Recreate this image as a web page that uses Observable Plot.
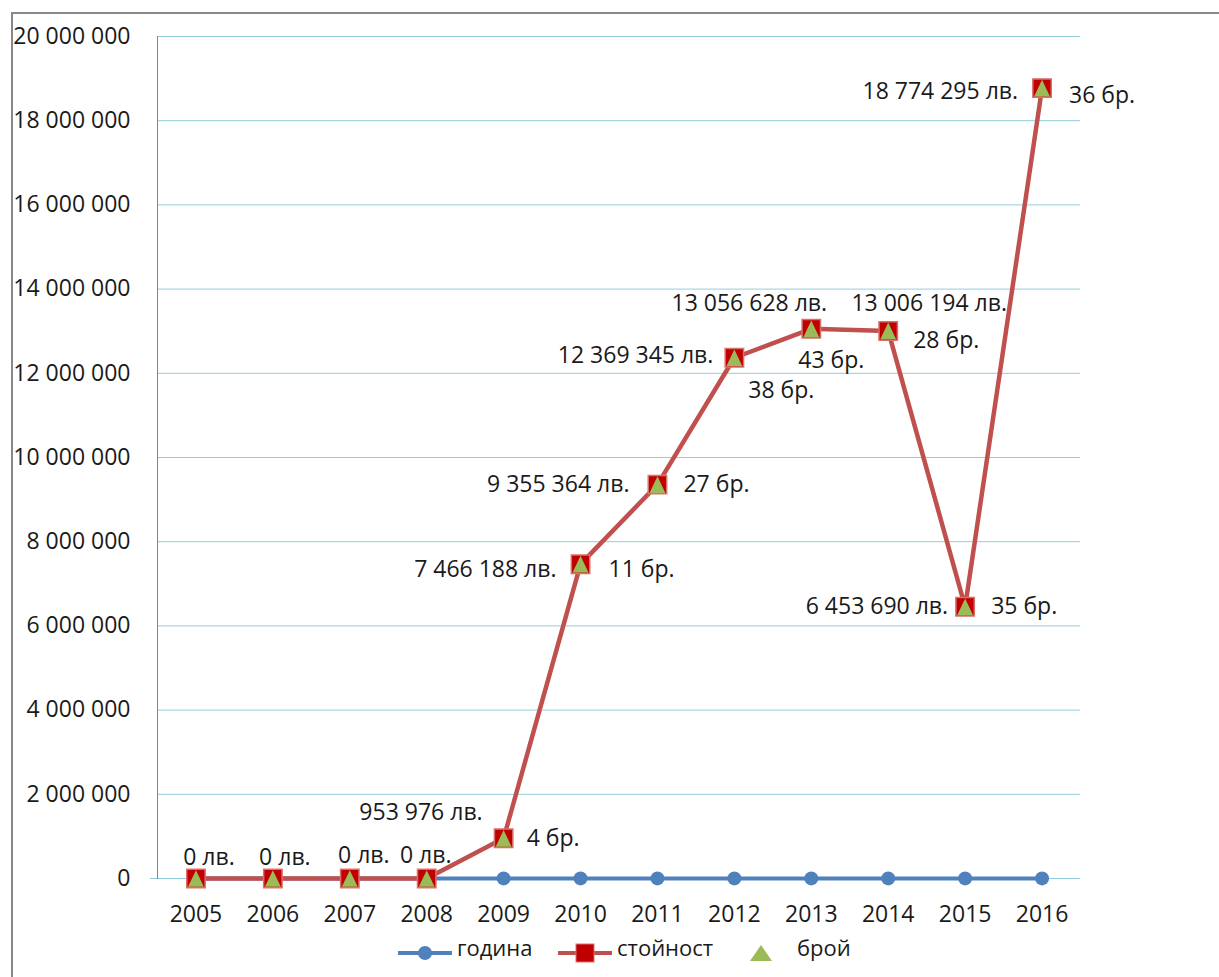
<!DOCTYPE html>
<html>
<head>
<meta charset="utf-8">
<script src="https://cdn.jsdelivr.net/npm/d3@7"></script>
<script src="https://cdn.jsdelivr.net/npm/@observablehq/plot@0.6"></script>
<style>
  html, body { margin: 0; padding: 0; background: #fff; }
  #wrap { position: relative; width: 1219px; height: 977px; overflow: hidden; }
  #chart { position: absolute; left: 0; top: 0; }
  .frame-top { position: absolute; left: 11px; top: 12px; width: 1208px; height: 2px; background: #888; }
  .frame-left { position: absolute; left: 11px; top: 12px; width: 2px; height: 965px; background: #888; }
</style>
</head>
<body>
<div id="wrap">
  <div id="chart"></div>
  <div class="frame-top"></div>
  <div class="frame-left"></div>
</div>
<script>
// ---- data ----
const years = [2005, 2006, 2007, 2008, 2009, 2010, 2011, 2012, 2013, 2014, 2015, 2016];
const godina = [2005, 2006, 2007, 2008, 2009, 2010, 2011, 2012, 2013, 2014, 2015, 2016];
const stoynost = [0, 0, 0, 0, 953976, 7466188, 9355364, 12369345, 13056628, 13006194, 6453690, 18774295];
const broy = [0, 0, 0, 0, 4, 11, 27, 38, 43, 28, 35, 36];
const yTicks = [0, 2000000, 4000000, 6000000, 8000000, 10000000, 12000000, 14000000, 16000000, 18000000, 20000000];
const seriesNames = ["година", "стойност", "брой"];

// ---- label layout (offsets from the point, in px) ----
const valueLabelLayout = [
  {anchor: "middle", dx: 13, dy: -21},
  {anchor: "middle", dx: 12, dy: -21},
  {anchor: "middle", dx: 14, dy: -23},
  {anchor: "middle", dx: -1, dy: -23},
  {anchor: "end", dx: -21, dy: -26},
  {anchor: "end", dx: -24, dy: 5},
  {anchor: "end", dx: -28, dy: 0},
  {anchor: "end", dx: -21, dy: -2},
  {anchor: "middle", dx: -62, dy: -25},
  {anchor: "middle", dx: 41, dy: -27},
  {anchor: "end", dx: -17, dy: 0},
  {anchor: "end", dx: -24, dy: 4}
];
const countLabelLayout = [
  null, null, null, null,
  {anchor: "start", dx: 23, dy: 0},
  {anchor: "start", dx: 28, dy: 5},
  {anchor: "start", dx: 26, dy: 0},
  {anchor: "middle", dx: 47, dy: 33},
  {anchor: "middle", dx: 20, dy: 32},
  {anchor: "start", dx: 25, dy: 10},
  {anchor: "start", dx: 26, dy: 0},
  {anchor: "start", dx: 27, dy: 8}
];

const data = years.map((year, i) => ({year, godina: godina[i], value: stoynost[i], count: broy[i]}));
const spaced = d => d3.format(",")(d).replace(/,/g, " ");

const FONT = "'Open Sans', 'DejaVu Sans', sans-serif";
const FS = 23;
const TEXT = "#1a1a1a";
const BLUE = "#4F81BD", RED_LINE = "#C0504D", RED_FILL = "#C00000", RED_EDGE = "#D9706D", GREEN = "#9BBB59", GRID = "#93CDDD";

const triangleSymbol = {
  draw(ctx, size) {
    const s = Math.sqrt(size) / 2;
    ctx.moveTo(0, -s);
    ctx.lineTo(s * 0.95, s);
    ctx.lineTo(-s * 0.95, s);
    ctx.closePath();
  }
};

const labelMarks = [];
data.forEach((d, i) => {
  const v = valueLabelLayout[i];
  labelMarks.push(Plot.text([d], {
    x: "year", y: "value", text: e => spaced(e.value) + " лв.",
    textAnchor: v.anchor, dx: v.dx, dy: v.dy, lineAnchor: "middle",
    fill: TEXT, fontSize: FS
  }));
  const c = countLabelLayout[i];
  if (c && d.count > 0) {
    labelMarks.push(Plot.text([d], {
      x: "year", y: "value", text: e => e.count + " бр.",
      textAnchor: c.anchor, dx: c.dx, dy: c.dy, lineAnchor: "middle",
      fill: TEXT, fontSize: FS
    }));
  }
});

const chart = Plot.plot({
  width: 1219,
  height: 977,
  marginLeft: 157,
  marginRight: 139,
  marginTop: 36,
  marginBottom: 99,
  style: {fontFamily: FONT, fontSize: FS + "px", color: TEXT, background: "transparent", overflow: "visible"},
  x: {type: "point", domain: years, padding: 0.5, round: false},
  y: {domain: [0, 20000000]},
  marks: [
    Plot.ruleY(yTicks.filter(t => t > 0), {stroke: GRID, strokeWidth: 1}),
    Plot.ruleY([0], {stroke: GRID, strokeWidth: 1, insetLeft: -7}),
    Plot.frame({anchor: "left", stroke: "#868686", strokeWidth: 1}),
    Plot.axisY({ticks: yTicks, tickSize: 0, tickPadding: 27, tickFormat: spaced, label: null, fill: TEXT}),
    Plot.axisX({tickSize: 0, tickPadding: 27, tickFormat: d => String(d), label: null, fill: TEXT}),
    Plot.line(data, {x: "year", y: "godina", stroke: BLUE, strokeWidth: 4}),
    Plot.dot(data, {x: "year", y: "godina", r: 7, fill: BLUE, symbol: "circle"}),
    Plot.line(data, {x: "year", y: "value", stroke: RED_LINE, strokeWidth: 4.5}),
    Plot.dot(data, {x: "year", y: "value", symbol: "square", r: 10.4, fill: RED_FILL, stroke: RED_EDGE, strokeWidth: 1.5}),
    Plot.dot(data, {x: "year", y: "value", symbol: triangleSymbol, r: 9.4, fill: GREEN}),
    ...labelMarks
  ]
});

document.getElementById("chart").appendChild(chart);

// ---- legend ----
const svg = d3.select(chart);
const lg = svg.append("g").attr("font-family", FONT).attr("font-size", 22).attr("fill", TEXT).attr("text-anchor", "start");
const ly = 953;
const tb = 956;
// година
lg.append("line").attr("x1", 398).attr("x2", 452).attr("y1", ly).attr("y2", ly).attr("stroke", BLUE).attr("stroke-width", 4);
lg.append("circle").attr("cx", 425).attr("cy", ly).attr("r", 7).attr("fill", BLUE);
lg.append("text").attr("x", 457).attr("y", tb).attr("text-anchor", "start").text(seriesNames[0]);
// стойност
lg.append("line").attr("x1", 558).attr("x2", 612).attr("y1", ly).attr("y2", ly).attr("stroke", RED_LINE).attr("stroke-width", 4);
lg.append("rect").attr("x", 576).attr("y", ly - 9).attr("width", 18).attr("height", 18).attr("fill", RED_FILL).attr("stroke", RED_EDGE).attr("stroke-width", 1);
lg.append("text").attr("x", 617).attr("y", tb).attr("text-anchor", "start").text(seriesNames[1]);
// брой
lg.append("path").attr("d", `M761,${ly - 8} L772,${ly + 8} L750,${ly + 8} Z`).attr("fill", GREEN);
lg.append("text").attr("x", 797).attr("y", tb).attr("text-anchor", "start").text(seriesNames[2]);
</script>
</body>
</html>
